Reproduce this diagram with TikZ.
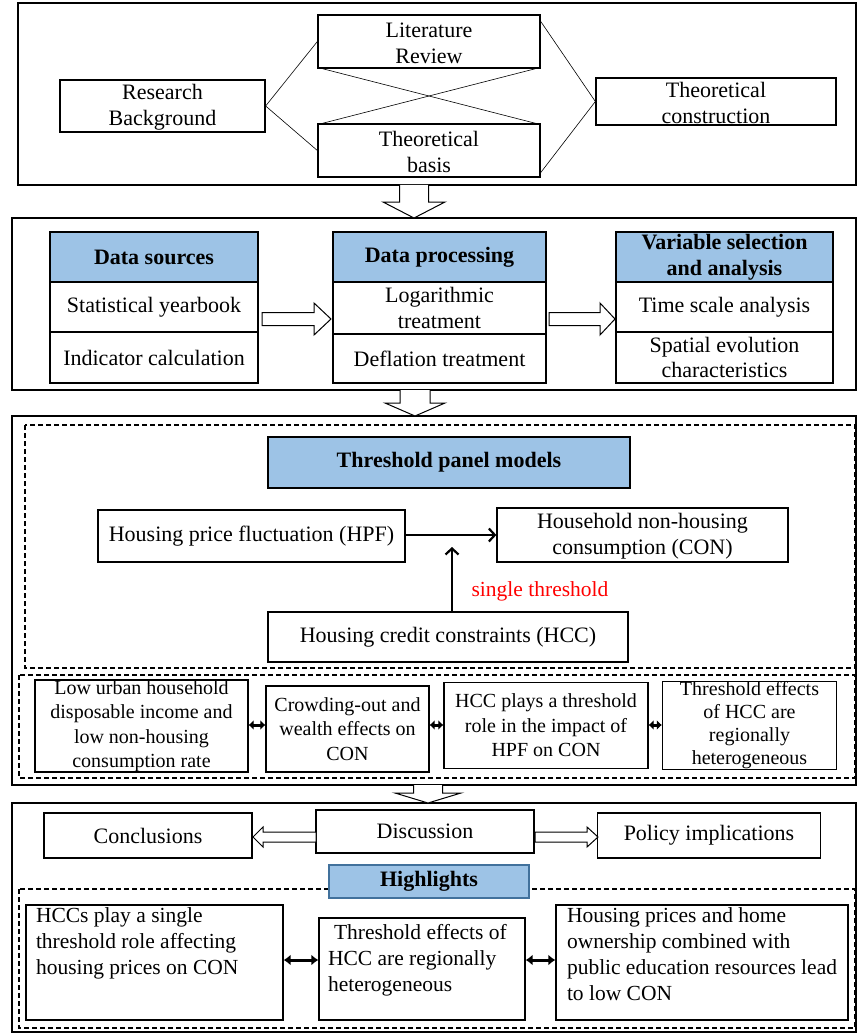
\documentclass[tikz,border=0pt]{standalone}
\usepackage{fontspec}
\setmainfont{Liberation Serif}
\usetikzlibrary{arrows.meta,calc}
\definecolor{hdrblue}{RGB}{157,195,230}
\definecolor{hlborder}{RGB}{65,113,156}
\newcommand\fA{\fontsize{22}{25.5}\selectfont}
\newcommand\fB{\fontsize{20}{24.5}\selectfont}
\newcommand\fC{\fontsize{21.5}{26}\selectfont}
\newcommand\darrowblk[6]{% cx, ytop, ybase, ytip, shaft half, head half
  \draw[blockarrow] (#1-#5,#2) -- (#1-#5,#3) -- (#1-#6,#3) -- (#1,#4) -- (#1+#6,#3) -- (#1+#5,#3) -- (#1+#5,#2);}
\newcommand\harrowblk[6]{% xtail, xbase, xtip, cy, shaft half, head half
  \draw[blockarrow] (#1,#4-#5) -- (#2,#4-#5) -- (#2,#4-#6) -- (#3,#4) -- (#2,#4+#6) -- (#2,#4+#5) -- (#1,#4+#5) -- cycle;}
\begin{document}
\begin{tikzpicture}[x=1pt,y=-1pt,
  frame/.style={draw, line width=1.2pt},
  dframe/.style={draw, line width=1.2pt, dash pattern=on 5pt off 3pt},
  box/.style={draw, line width=1.3pt, align=center, inner sep=0pt, font=\fA, fill=white},
  hdr/.style={box, fill=hdrblue, font=\fA\bfseries},
  sbox/.style={box, font=\fB},
  hbox/.style={draw, line width=1.3pt, inner sep=0pt, font=\fC, fill=white},
  blockarrow/.style={draw, line width=1pt, fill=white, line join=miter},
  thinline/.style={draw, line width=0.6pt},
  dbl/.style={line width=3pt, {Latex[length=5pt,width=10pt]}-{Latex[length=5pt,width=10pt]}},
  dblbig/.style={line width=3pt, {Latex[length=7pt,width=11pt]}-{Latex[length=7pt,width=11pt]}},
  flow/.style={line width=2.2pt}
]
\useasboundingbox (0,0) rectangle (858,1035);

% ---------- section frames ----------
\draw[frame] (18,3) rectangle (856,185);
\draw[frame] (12,218) rectangle (856,390);
\draw[frame] (12,416) rectangle (856,785);
\draw[frame] (12,803) rectangle (856,1032);

% ---------- section 1 ----------
\node[box, minimum width=205pt, minimum height=52pt] (rb) at (162.5,106) {\rule{0pt}{18pt}Research\\Background};
\node[box, minimum width=222pt, minimum height=53pt] (lr) at (429,41.5) {\rule{0pt}{18pt}Literature\\Review};
\node[box, minimum width=222pt, minimum height=53pt] (tb) at (429,150.5) {\rule{0pt}{18pt}Theoretical\\basis};
\node[box, minimum width=240pt, minimum height=47pt] (tc) at (716,101.5) {\rule{0pt}{18pt}Theoretical\\construction};
\draw[thinline] (rb.east) -- (lr.west);
\draw[thinline] (rb.east) -- (tb.west);
\draw[thinline] ($(lr.south west)+(5,0)$) -- ($(tb.north east)+(-5,0)$);
\draw[thinline] ($(tb.north west)+(5,0)$) -- ($(lr.south east)+(-5,0)$);
\draw[thinline] ($(lr.north east)+(0,7)$) -- (tc.west);
\draw[thinline] ($(tb.south east)+(0,-5)$) -- (tc.west);

\darrowblk{414}{185}{202}{218}{14.5}{31}

% ---------- section 2 ----------
\node[hdr, minimum width=208pt, minimum height=50pt] (ds) at (154,257) {Data sources};
\node[box, minimum width=208pt, minimum height=50pt] (sy) at (154,307) {Statistical yearbook};
\node[box, minimum width=208pt, minimum height=51pt] (ic) at (154,357.5) {Indicator calculation};
\node[hdr, minimum width=213pt, minimum height=50pt] (dp) at (439.5,257) {Data processing};
\node[box, minimum width=213pt, minimum height=52pt] (lt) at (439.5,308) {Logarithmic\\treatment};
\node[box, minimum width=213pt, minimum height=49pt] (dt) at (439.5,358.5) {Deflation treatment};
\node[hdr, minimum width=217pt, minimum height=50pt] (vs) at (724.5,257) {Variable selection\\and analysis};
\node[box, minimum width=217pt, minimum height=50pt] (ts) at (724.5,307) {Time scale analysis};
\node[box, minimum width=217pt, minimum height=51pt] (se) at (724.5,357.5) {Spatial evolution\\characteristics};

\harrowblk{262}{314}{331}{319}{6.5}{16}
\harrowblk{549}{600}{615}{319}{6.5}{16}

\darrowblk{415}{390}{403}{416}{15}{30}

% ---------- section 3 ----------
\draw[dframe] (25,425) rectangle (855,668);
\draw[dframe] (19,675) rectangle (855,778);

\node[hdr, minimum width=362pt, minimum height=51pt] (tpm) at (449,462.5) {Threshold panel models};
\node[box, minimum width=307pt, minimum height=52pt] (hpf) at (251.5,536) {Housing price fluctuation (HPF)};
\node[box, minimum width=291pt, minimum height=54pt] (con) at (642.5,535) {\rule{0pt}{18pt}Household non-housing\\consumption (CON)};
\node[box, minimum width=360pt, minimum height=50pt] (hcc) at (448,637) {Housing credit constraints (HCC)};
\coordinate (thr) at (452,547);
\coordinate (ya) at (0,535);
\draw[flow, -{Straight Barb[length=6pt,width=13pt]}] (hpf.east |- ya) -- (con.west |- ya);
\draw[flow, -{Straight Barb[length=6pt,width=13pt]}] (thr |- hcc.north) -- (thr);
\node[text=red, font=\fontsize{21.5}{25}\selectfont] (st) at (540,591) {single threshold};

\node[sbox, minimum width=213pt, minimum height=92pt] (b1) at (141.5,726) {Low urban household\\disposable income and\\low non-housing\\consumption rate};
\node[sbox, minimum width=163pt, minimum height=86pt] (b2) at (347.5,729) {Crowding-out and\\wealth effects on\\CON};
\node[sbox, minimum width=204pt, minimum height=86pt] (b3) at (546,725.5) {HCC plays a threshold\\role in the impact of\\HPF on CON};
\node[sbox, minimum width=174pt, minimum height=86pt, font=\fontsize{20}{23}\selectfont] (b4) at (749.5,725.5) {Threshold effects\\of HCC are\\regionally\\heterogeneous};
\coordinate (yd) at (0,725);
\draw[dbl] (b1.east |- yd) -- (b2.west |- yd);
\draw[dbl] (b2.east |- yd) -- (b3.west |- yd);
\draw[dbl] (b3.east |- yd) -- (b4.west |- yd);

\darrowblk{428}{785}{793}{803}{14.5}{33}

% ---------- section 4 ----------
\node[box, minimum width=208pt, minimum height=45pt] (cl) at (148,835.5) {Conclusions};
\node[box, minimum width=218pt, minimum height=43pt] (dc) at (425,831.5) {Discussion};
\node[box, minimum width=223pt, minimum height=45pt] (pi) at (709,835.5) {Policy implications};
\harrowblk{316}{263}{253}{837}{5}{10}
\harrowblk{535}{587}{598}{837}{5}{10}

\draw[dframe] (19,889) rectangle (855,1028);
\node[hdr, draw=hlborder, minimum width=200pt, minimum height=33pt] (hl) at (429,881.5) {Highlights};

\node[hbox, minimum width=257pt, minimum height=115pt] (hb1) at (154.5,962.5)
  {\parbox[c][109pt][t]{237pt}{\raggedright HCCs play a single\\threshold role affecting\\housing prices on CON}};
\node[hbox, minimum width=206pt, minimum height=102pt] (hb2) at (422,969)
  {\parbox[c][90pt][t]{188pt}{\raggedright\hspace*{6pt}Threshold effects of\\HCC are regionally\\heterogeneous}};
\node[hbox, minimum width=292pt, minimum height=115pt] (hb3) at (702,962.5)
  {\parbox[c][109pt][t]{270pt}{\raggedright Housing prices and home\\ownership combined with\\public education resources lead\\to low CON}};
\coordinate (yh) at (0,960);
\draw[dblbig] (hb1.east |- yh) -- (hb2.west |- yh);
\draw[dblbig] (hb2.east |- yh) -- (hb3.west |- yh);
\end{tikzpicture}
\end{document}
